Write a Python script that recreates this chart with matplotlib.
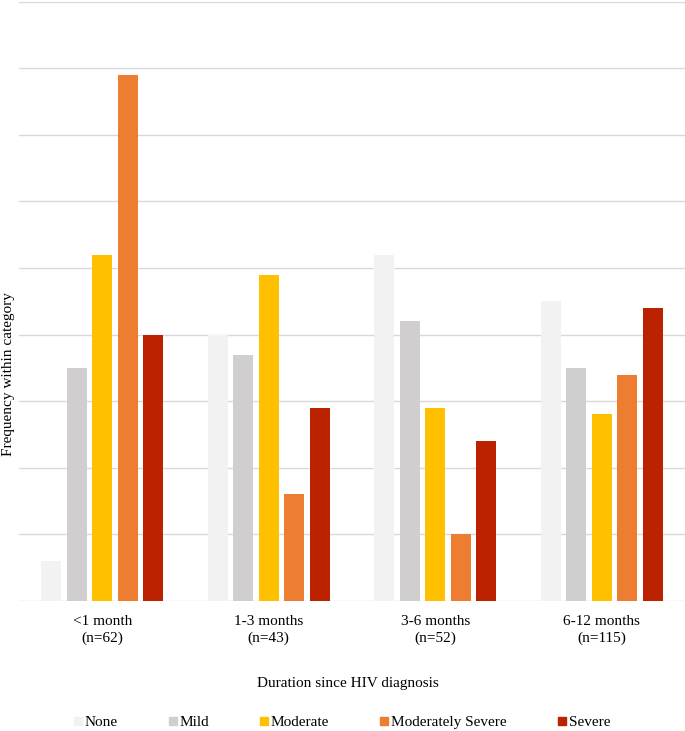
import matplotlib
matplotlib.use("Agg")
import matplotlib.pyplot as plt
from matplotlib.lines import Line2D
import numpy as np

# Duration groups and severity categories
durations = ['<1 month\n(n=62)', '1-3 months\n(n=43)', '3-6 months\n(n=52)', '6-12 months\n(n=115)']
severity = ['None', 'Mild', 'Moderate', 'Moderately Severe', 'Severe']

# frequency within category (%)
none_vals = [3.0, 20.0, 26.0, 22.5]
mild_vals = [17.5, 18.5, 21.0, 17.5]
moderate_vals = [26.0, 24.5, 14.5, 14.0]
modsev_vals = [39.5, 8.0, 5.0, 17.0]
severe_vals = [20.0, 14.5, 12.0, 22.0]

colors = ['#F2F2F2', '#D0CECE', '#FFC000', '#ED7D31', '#BC2200']

plt.rcParams['font.family'] = ['Liberation Serif', 'DejaVu Serif']

fig = plt.figure(figsize=(6.85, 7.31), dpi=100)
W, H = 685.0, 731.0
ax = fig.add_axes([19 / W, 1 - 601 / H, 666 / W, 599.5 / H])

x = np.arange(len(durations))
pitch = 0.153
barw = 0.12
series = [none_vals, mild_vals, moderate_vals, modsev_vals, severe_vals]
for i, vals in enumerate(series):
    ax.bar(x + (i - 2) * pitch, vals, width=barw, color=colors[i], zorder=3, linewidth=0)

ax.set_xlim(-0.5, 3.5)
ax.set_ylim(0, 45)
ax.set_yticks(np.arange(0, 46, 5))
ax.yaxis.grid(True, color='#D9D9D9', linewidth=1.0, zorder=0)
ax.tick_params(axis='y', left=False, labelleft=False)
ax.tick_params(axis='x', length=0, pad=10, labelsize=11)
ax.set_xticks(x)
ax.set_xticklabels(durations, linespacing=1.35)
for s in ax.spines.values():
    s.set_visible(False)

fig.text(9 / W, 1 - 374 / H, 'Frequency within category', rotation=90,
         ha='center', va='center', fontsize=11)
fig.text(348 / W, 1 - 683 / H, 'Duration since HIV diagnosis',
         ha='center', va='center', fontsize=11)

handles = [Line2D([], [], marker='s', linestyle='none', markersize=5.5,
                  markerfacecolor=c, markeredgecolor=c) for c in colors]
fig.legend(handles, severity, loc='center', bbox_to_anchor=(342 / W, 1 - 722 / H),
           ncol=5, frameon=False, fontsize=11, handlelength=0.5,
           handletextpad=0.2, columnspacing=3.35, borderpad=0)

fig.savefig('out.png', dpi=100)
